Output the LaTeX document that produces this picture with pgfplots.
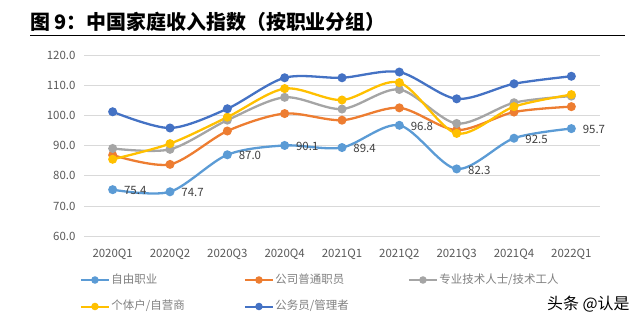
\documentclass[border=0pt]{standalone}
\usepackage{pgfplots}
\pgfplotsset{compat=1.18}
\usepackage{fontspec}
\setmainfont{Noto Sans CJK SC}
\definecolor{cA}{HTML}{5B9BD5}
\definecolor{cB}{HTML}{ED7D31}
\definecolor{cC}{HTML}{A5A5A5}
\definecolor{cD}{HTML}{FFC000}
\definecolor{cE}{HTML}{4472C4}
\definecolor{tickgray}{HTML}{595959}
\definecolor{leggray}{HTML}{7F7F7F}
\definecolor{labgray}{HTML}{404040}
\definecolor{gridgray}{HTML}{D9D9D9}
\begin{document}
\begin{tikzpicture}[x=1bp,y=1bp]
\path[use as bounding box] (0,0) rectangle (640,322);
\node[anchor=base west, inner sep=0pt, font=\fontsize{20}{20}\selectfont\bfseries] at (30,293) {图 9：中国家庭收入指数（按职业分组）};
\draw[line width=1.2bp] (30,286.3) -- (625,286.3);
\begin{axis}[
  at={(84bp,86bp)}, anchor=south west,
  scale only axis, width=516bp, height=180.5bp,
  xmin=-0.5, xmax=8.5, ymin=60, ymax=120,
  ytick={60,70,...,120},
  xtick={0,...,8},
  xticklabels={2020Q1,2020Q2,2020Q3,2020Q4,2021Q1,2021Q2,2021Q3,2021Q4,2022Q1},
  axis line style={draw=none},
  ymajorgrids, grid style={color=gridgray, line width=0.8bp},
  major tick length=0pt,
  tick label style={font=\fontsize{11.5}{12}\selectfont, text=tickgray},
  /pgf/number format/fixed, /pgf/number format/fixed zerofill, /pgf/number format/precision=1, /pgf/number format/assume math mode=true,
  yticklabel style={xshift=-5bp},
  xticklabel style={yshift=-9bp},
  legend columns=3,
  legend image code/.code={\draw[mark repeat=2, mark phase=2, #1, line width=2bp, mark size=2.7bp] plot coordinates {(0bp,0bp) (14bp,0bp) (28bp,0bp)};},
  legend style={draw=none, fill=none, inner sep=0pt, outer sep=0pt,
    anchor=north west, at={(axis description cs:-0.0078,-0.2105)},
    cells={anchor=west},
    /tikz/column sep=0pt, /tikz/row sep=14.5bp,
    nodes={font=\fontsize{11.5}{12}\selectfont, text=leggray, inner xsep=1.5bp, inner ysep=0pt, text height=9bp, text depth=3bp, text width=131bp, align=left}},
  every axis plot/.append style={line width=2.3bp, smooth, tension=0.5, mark=*, mark size=3.3bp},
]
\addplot[color=cA, mark options={fill=cA, draw=cA},
  nodes near coords, point meta=explicit symbolic,
  every node near coord/.style={anchor=west, xshift=7bp, yshift=-1bp, font=\fontsize{11.5}{12}\selectfont, text=labgray}]
  table[meta=lab] {
x y lab
0 75.4 75.4
1 74.7 74.7
2 87.0 87.0
3 90.1 90.1
4 89.4 89.4
5 96.8 96.8
6 82.3 82.3
7 92.5 92.5
8 95.7 95.7
};
\addlegendentry{自由职业}
\addplot[color=cB, mark options={fill=cB, draw=cB}] coordinates {
(0,86.9) (1,83.8) (2,94.9) (3,100.7) (4,98.5) (5,102.6) (6,95.2) (7,101.2) (8,103.0)};
\addlegendentry{公司普通职员}
\addplot[color=cC, mark options={fill=cC, draw=cC}] coordinates {
(0,89.1) (1,88.8) (2,98.5) (3,106.1) (4,102.2) (5,108.7) (6,97.4) (7,104.3) (8,106.5)};
\addlegendentry{专业技术人士/技术工人}
\addplot[color=cD, mark options={fill=cD, draw=cD}] coordinates {
(0,85.5) (1,90.7) (2,99.5) (3,109.0) (4,105.2) (5,111.0) (6,94.1) (7,103.0) (8,107.0)};
\addlegendentry{个体户/自营商}
\addplot[color=cE, mark options={fill=cE, draw=cE}] coordinates {
(0,101.3) (1,95.9) (2,102.3) (3,112.6) (4,112.6) (5,114.5) (6,105.6) (7,110.6) (8,113.1)};
\addlegendentry{公务员/管理者}
\end{axis}
\node[anchor=west, inner sep=0pt, font=\fontsize{16}{16}\selectfont, text=black] at (547,18) {头条 @认是};
\end{tikzpicture}
\end{document}
